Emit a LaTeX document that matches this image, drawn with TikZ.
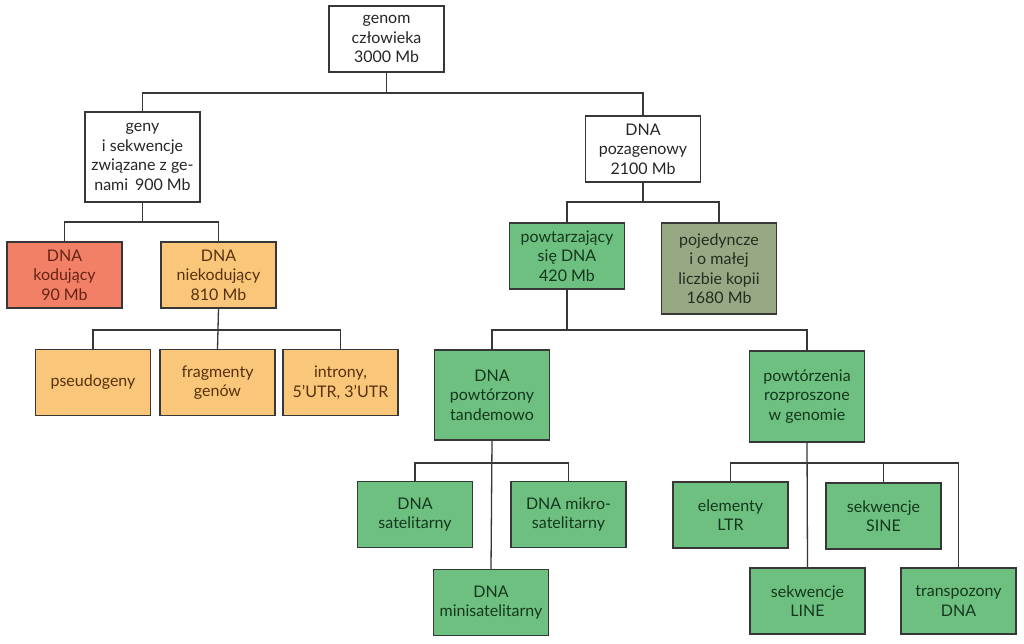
\documentclass[tikz,border=0pt]{standalone}
\usepackage{fontspec}
\setmainfont{Lato}
\definecolor{cred}{RGB}{242,128,102}
\definecolor{corange}{RGB}{250,198,122}
\definecolor{cgreen}{RGB}{110,192,128}
\definecolor{cgray}{RGB}{152,168,132}
\definecolor{tred}{RGB}{100,35,20}
\definecolor{torange}{RGB}{85,50,15}
\definecolor{tgreen}{RGB}{20,55,30}
\definecolor{tgray}{RGB}{35,45,30}
\definecolor{edgec}{RGB}{55,55,55}
\begin{document}
\begin{tikzpicture}[x=1pt,y=-1pt,
  box/.style={draw=edgec,line width=1.2pt,minimum width=115pt,minimum height=66pt,inner sep=0pt,
    align=center,font=\fontsize{16}{19.5}\selectfont},
  tall/.style={minimum height=90pt},
  wbox/.style={box,fill=white,text=black!85},
  rbox/.style={box,fill=cred,text=tred},
  obox/.style={box,fill=corange,text=torange},
  gbox/.style={box,fill=cgreen,text=tgreen},
  ybox/.style={box,fill=cgray,text=tgray},
  conn/.style={draw=edgec,line width=1.3pt}]
\fill[white] (0,0) rectangle (1024,643);
\useasboundingbox (0,0) rectangle (1024,643);
\coordinate (b1) at (0,93);
\coordinate (b2) at (0,222);
\coordinate (b3) at (0,202);
\coordinate (b4) at (0,330);
\coordinate (b5) at (0,463);

\node[wbox] (root) at (386.5,39) {genom\\człowieka\\3000 Mb};
\node[wbox,tall] (geny) at (142.5,157) {geny\\i sekwencje\\związane z ge-\\nami\, 900 Mb};
\node[wbox] (poza) at (643,149) {DNA\\pozagenowy\\2100 Mb};
\node[rbox] (kod) at (64.5,275) {DNA\\kodujący\\90 Mb};
\node[obox] (niekod) at (218.5,275) {DNA\\niekodujący\\810 Mb};
\node[gbox] (powt) at (567,256) {powtarzający\\się DNA\\420 Mb};
\node[ybox,minimum height=91pt] (poj) at (719,268.5) {pojedyncze\\i o małej\\liczbie kopii\\1680 Mb};
\node[obox] (pseudo) at (93,382.5) {pseudogeny};
\node[obox] (frag) at (217.5,382.5) {fragmenty\\genów};
\node[obox] (intr) at (340.5,382.5) {introny,\\5'UTR, 3'UTR};
\node[gbox,tall] (tand) at (492,395) {DNA\\powtórzony\\tandemowo};
\node[gbox,minimum height=91pt] (rozp) at (807,396.5) {powtórzenia\\rozproszone\\w genomie};
\node[gbox] (sat) at (415,514.5) {DNA\\satelitarny};
\node[gbox] (mikro) at (568.5,514.5) {DNA mikro-\\satelitarny};
\node[gbox] (mini) at (491,602.5) {DNA\\minisatelitarny};
\node[gbox] (ltr) at (730.5,515) {elementy\\LTR};
\node[gbox] (sine) at (883.5,516) {sekwencje\\SINE};
\node[gbox] (line) at (807.5,601) {sekwencje\\LINE};
\node[gbox] (trans) at (958.5,601) {transpozony\\DNA};

\draw[conn] (root.south) -- (root.south |- b1);
\draw[conn] (geny.north) |- (b1 -| poza.north) -- (poza.north);
\draw[conn] (geny.south) -- (geny.south |- b2);
\draw[conn] (kod.north) |- (b2 -| niekod.north) -- (niekod.north);
\draw[conn] (poza.south) -- (poza.south |- b3);
\draw[conn] (powt.north) |- (b3 -| poj.north) -- (poj.north);
\draw[conn] (niekod.south) -- (frag.north);
\draw[conn] (pseudo.north) |- (b4 -| intr.north) -- (intr.north);
\draw[conn] (powt.south) -- (powt.south |- b4);
\draw[conn] (tand.north) |- (b4 -| rozp.north) -- (rozp.north);
\draw[conn] (tand.south) -- (mini.north);
\draw[conn] (sat.north) |- (b5 -| mikro.north) -- (mikro.north);
\draw[conn] (rozp.south) -- (line.north);
\draw[conn] (ltr.north) |- (b5 -| trans.north) -- (trans.north);
\draw[conn] (sine.north) -- (sine.north |- b5);
\end{tikzpicture}
\end{document}
